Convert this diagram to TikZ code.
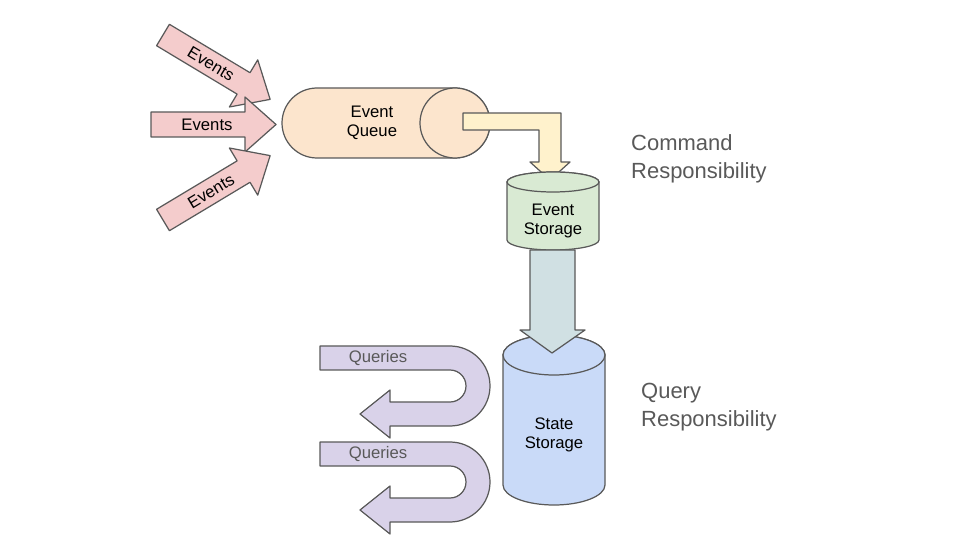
\documentclass[tikz,border=0pt]{standalone}
\usepackage{fontspec}
\setmainfont{Liberation Sans}
\definecolor{edge}{HTML}{595959}
\definecolor{txt}{HTML}{595959}
\definecolor{evpink}{HTML}{F4CCCC}
\definecolor{qorange}{HTML}{FCE5CD}
\definecolor{ayellow}{HTML}{FFF2CC}
\definecolor{sgreen}{HTML}{D9EAD3}
\definecolor{agray}{HTML}{D0E0E3}
\definecolor{sblue}{HTML}{C9DAF8}
\definecolor{qpurple}{HTML}{D9D2E9}
\tikzset{
  shp/.style={draw=edge,line width=0.7pt,line join=round},
  lbl/.style={font=\fontsize{9.5}{11}\selectfont},
  side/.style={font=\fontsize{12.5}{16}\selectfont,text=txt,align=left,anchor=west},
}
\begin{document}
\begin{tikzpicture}[x=0.02cm,y=-0.02cm]
\useasboundingbox (0,0) rectangle (960,540);
% events arrows
\foreach \sx/\sy/\ang [count=\i] in {163/35/-31, 151/124.5/0, 163/220/31}{
  \begin{scope}[shift={(\sx,\sy)},rotate=\ang]
    \draw[shp,fill=evpink] (0,-12.5) -- (94,-12.5) -- (94,-27.5) -- (125,0) -- (94,27.5) -- (94,12.5) -- (0,12.5) -- cycle;
    \node[lbl,rotate=\ang] (ev\i) at (56,0) {Events};
  \end{scope}
}
% event queue
\draw[shp,fill=qorange] (317,88) arc(-90:-270:35) -- (455,158) arc(90:-90:35) -- cycle;
\draw[shp,fill=qorange] (455,123) circle (35);
\node[lbl,align=center] (queue) at (372,123) {Event\\Queue};
% yellow arrow
\draw[shp,fill=ayellow] (463,113) -- (561,113) -- (561,162) -- (570,162) -- (550,180) -- (530,162) -- (539,162) -- (539,130) -- (463,130) -- cycle;
% event storage
\draw[shp,fill=sgreen] (507,182) -- (507,240) arc(180:0:46 and 10) -- (599,182) arc(0:-180:46 and 10) -- cycle;
\draw[shp,fill=sgreen] (553,182) ellipse (46 and 10);
\node[lbl,align=center] (evstore) at (553,221) {Event\\Storage};
% state storage
\draw[shp,fill=sblue] (503,355) -- (503,485) arc(180:0:51 and 20) -- (605,355) arc(0:-180:51 and 20) -- cycle;
\draw[shp,fill=sblue] (554,355) ellipse (51 and 20);
\node[lbl,align=center] (ststore) at (554,435) {State\\Storage};
% gray arrow
\draw[shp,fill=agray] (530,250) -- (575,250) -- (575,330) -- (585,330) -- (552,353) -- (520,330) -- (530,330) -- cycle;
% queries
\foreach \dy [count=\i] in {0,96}{
  \begin{scope}[yshift=-\dy*0.02cm]
    \draw[shp,fill=qpurple] (320,346) -- (450,346) arc(-90:90:40) -- (390,426) -- (390,438) -- (360,414) -- (390,390) -- (390,402) -- (450,402) arc(90:-90:16) -- (320,370) -- cycle;
    \node[lbl,text=txt] (q\i) at (378,358) {Queries};
  \end{scope}
}
\node[side] (cmd) at (625,159) {Command\\Responsibility};
\node[side] (qry) at (635,407) {Query\\Responsibility};
\end{tikzpicture}
\end{document}
